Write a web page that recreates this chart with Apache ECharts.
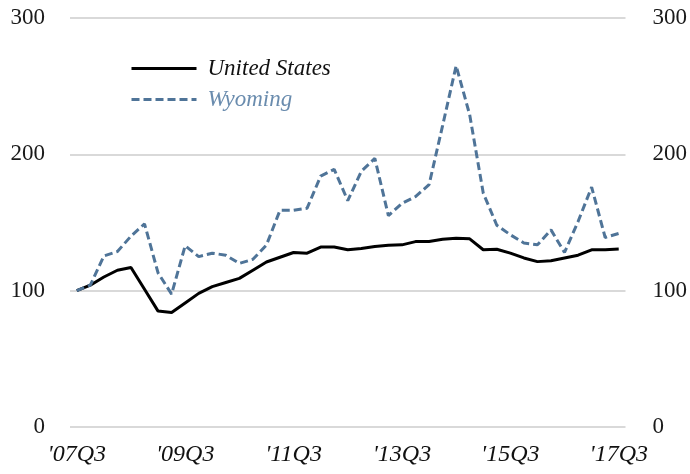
<!DOCTYPE html>
<html>
<head>
<meta charset="utf-8">
<script src="https://cdn.jsdelivr.net/npm/echarts@6/dist/echarts.min.js"></script>
<style>
  html, body { margin: 0; padding: 0; background: #fff; }
  #chart { width: 690px; height: 474px; }
</style>
</head>
<body>
<div id="chart"></div>
<script>
// Quarterly index, 2007Q3 = 100
const quarters = [];
for (let y = 2007, q = 3; y < 2017 || (y === 2017 && q <= 3); ) {
  quarters.push("'" + String(y).slice(2) + 'Q' + q);
  q++;
  if (q > 4) { q = 1; y++; }
}

const unitedStates = [100, 104, 110, 115, 117, 101, 85, 84, 91, 98,
  103, 106, 109, 115, 121, 124.5, 128, 127.5, 132, 132,
  130, 131, 132.4, 133.3, 133.6, 136, 136, 137.7, 138.5, 138,
  130, 130.4, 127.5, 124, 121.3, 122, 124, 126, 130, 130, 130.5];

const wyoming = [100, 104, 125.5, 128.7, 140, 149, 113, 97.5, 133, 125,
  127.5, 126, 120, 123, 133.5, 159, 159, 160.5, 184, 189,
  166, 187.5, 197, 155, 164, 169, 177.7, 221, 265, 229,
  171.6, 148, 141, 135, 133.6, 144.6, 128, 150.7, 176, 139, 142];

const yTicks = { min: 0, max: 300, interval: 100 };

const serif = '"Liberation Serif", "DejaVu Serif", serif';
const usColor = '#000000';
const wyColor = '#4f7498';

const chart = echarts.init(document.getElementById('chart'));

const valueAxis = (pos) => ({
  type: 'value',
  position: pos,
  min: yTicks.min,
  max: yTicks.max,
  interval: yTicks.interval,
  axisLine: { show: false },
  axisTick: { show: false },
  axisLabel: {
    color: '#1a1a1a',
    fontFamily: serif,
    fontSize: 23,
    margin: pos === 'left' ? 25 : 27
  },
  splitLine: { show: pos === 'left', lineStyle: { color: '#d9d9d9', width: 2 } }
});

chart.setOption({
  animation: false,
  backgroundColor: '#ffffff',
  grid: { left: 70, right: 62, top: 18, bottom: 47, containLabel: false },
  legend: {
    orient: 'vertical',
    left: 125,
    top: 50,
    itemWidth: 65,
    itemHeight: 14,
    itemGap: 4,
    // line-only keys, no marker dot
    itemStyle: { opacity: 0 },
    lineStyle: { width: 3 },
    textStyle: { fontFamily: serif, fontSize: 23, fontStyle: 'italic', lineHeight: 27, padding: [0, 0, 0, 6] },
    data: [
      { name: 'United States', textStyle: { color: '#111111' } },
      { name: 'Wyoming', textStyle: { color: '#6a8cae' } }
    ]
  },
  xAxis: {
    type: 'category',
    data: quarters,
    boundaryGap: true,
    axisLine: { show: false },
    axisTick: { show: false },
    axisLabel: {
      interval: 7,
      color: '#111111',
      fontFamily: serif,
      fontSize: 24,
      fontStyle: 'italic',
      margin: 16
    }
  },
  yAxis: [valueAxis('left'), valueAxis('right')],
  series: [
    {
      name: 'United States',
      type: 'line',
      data: unitedStates,
      symbol: 'none',
      lineStyle: { color: usColor, width: 3 },
      itemStyle: { color: usColor }
    },
    {
      name: 'Wyoming',
      type: 'line',
      data: wyoming,
      symbol: 'none',
      lineStyle: { color: wyColor, width: 3, type: [8, 4] },
      itemStyle: { color: wyColor }
    }
  ]
});
</script>
</body>
</html>
